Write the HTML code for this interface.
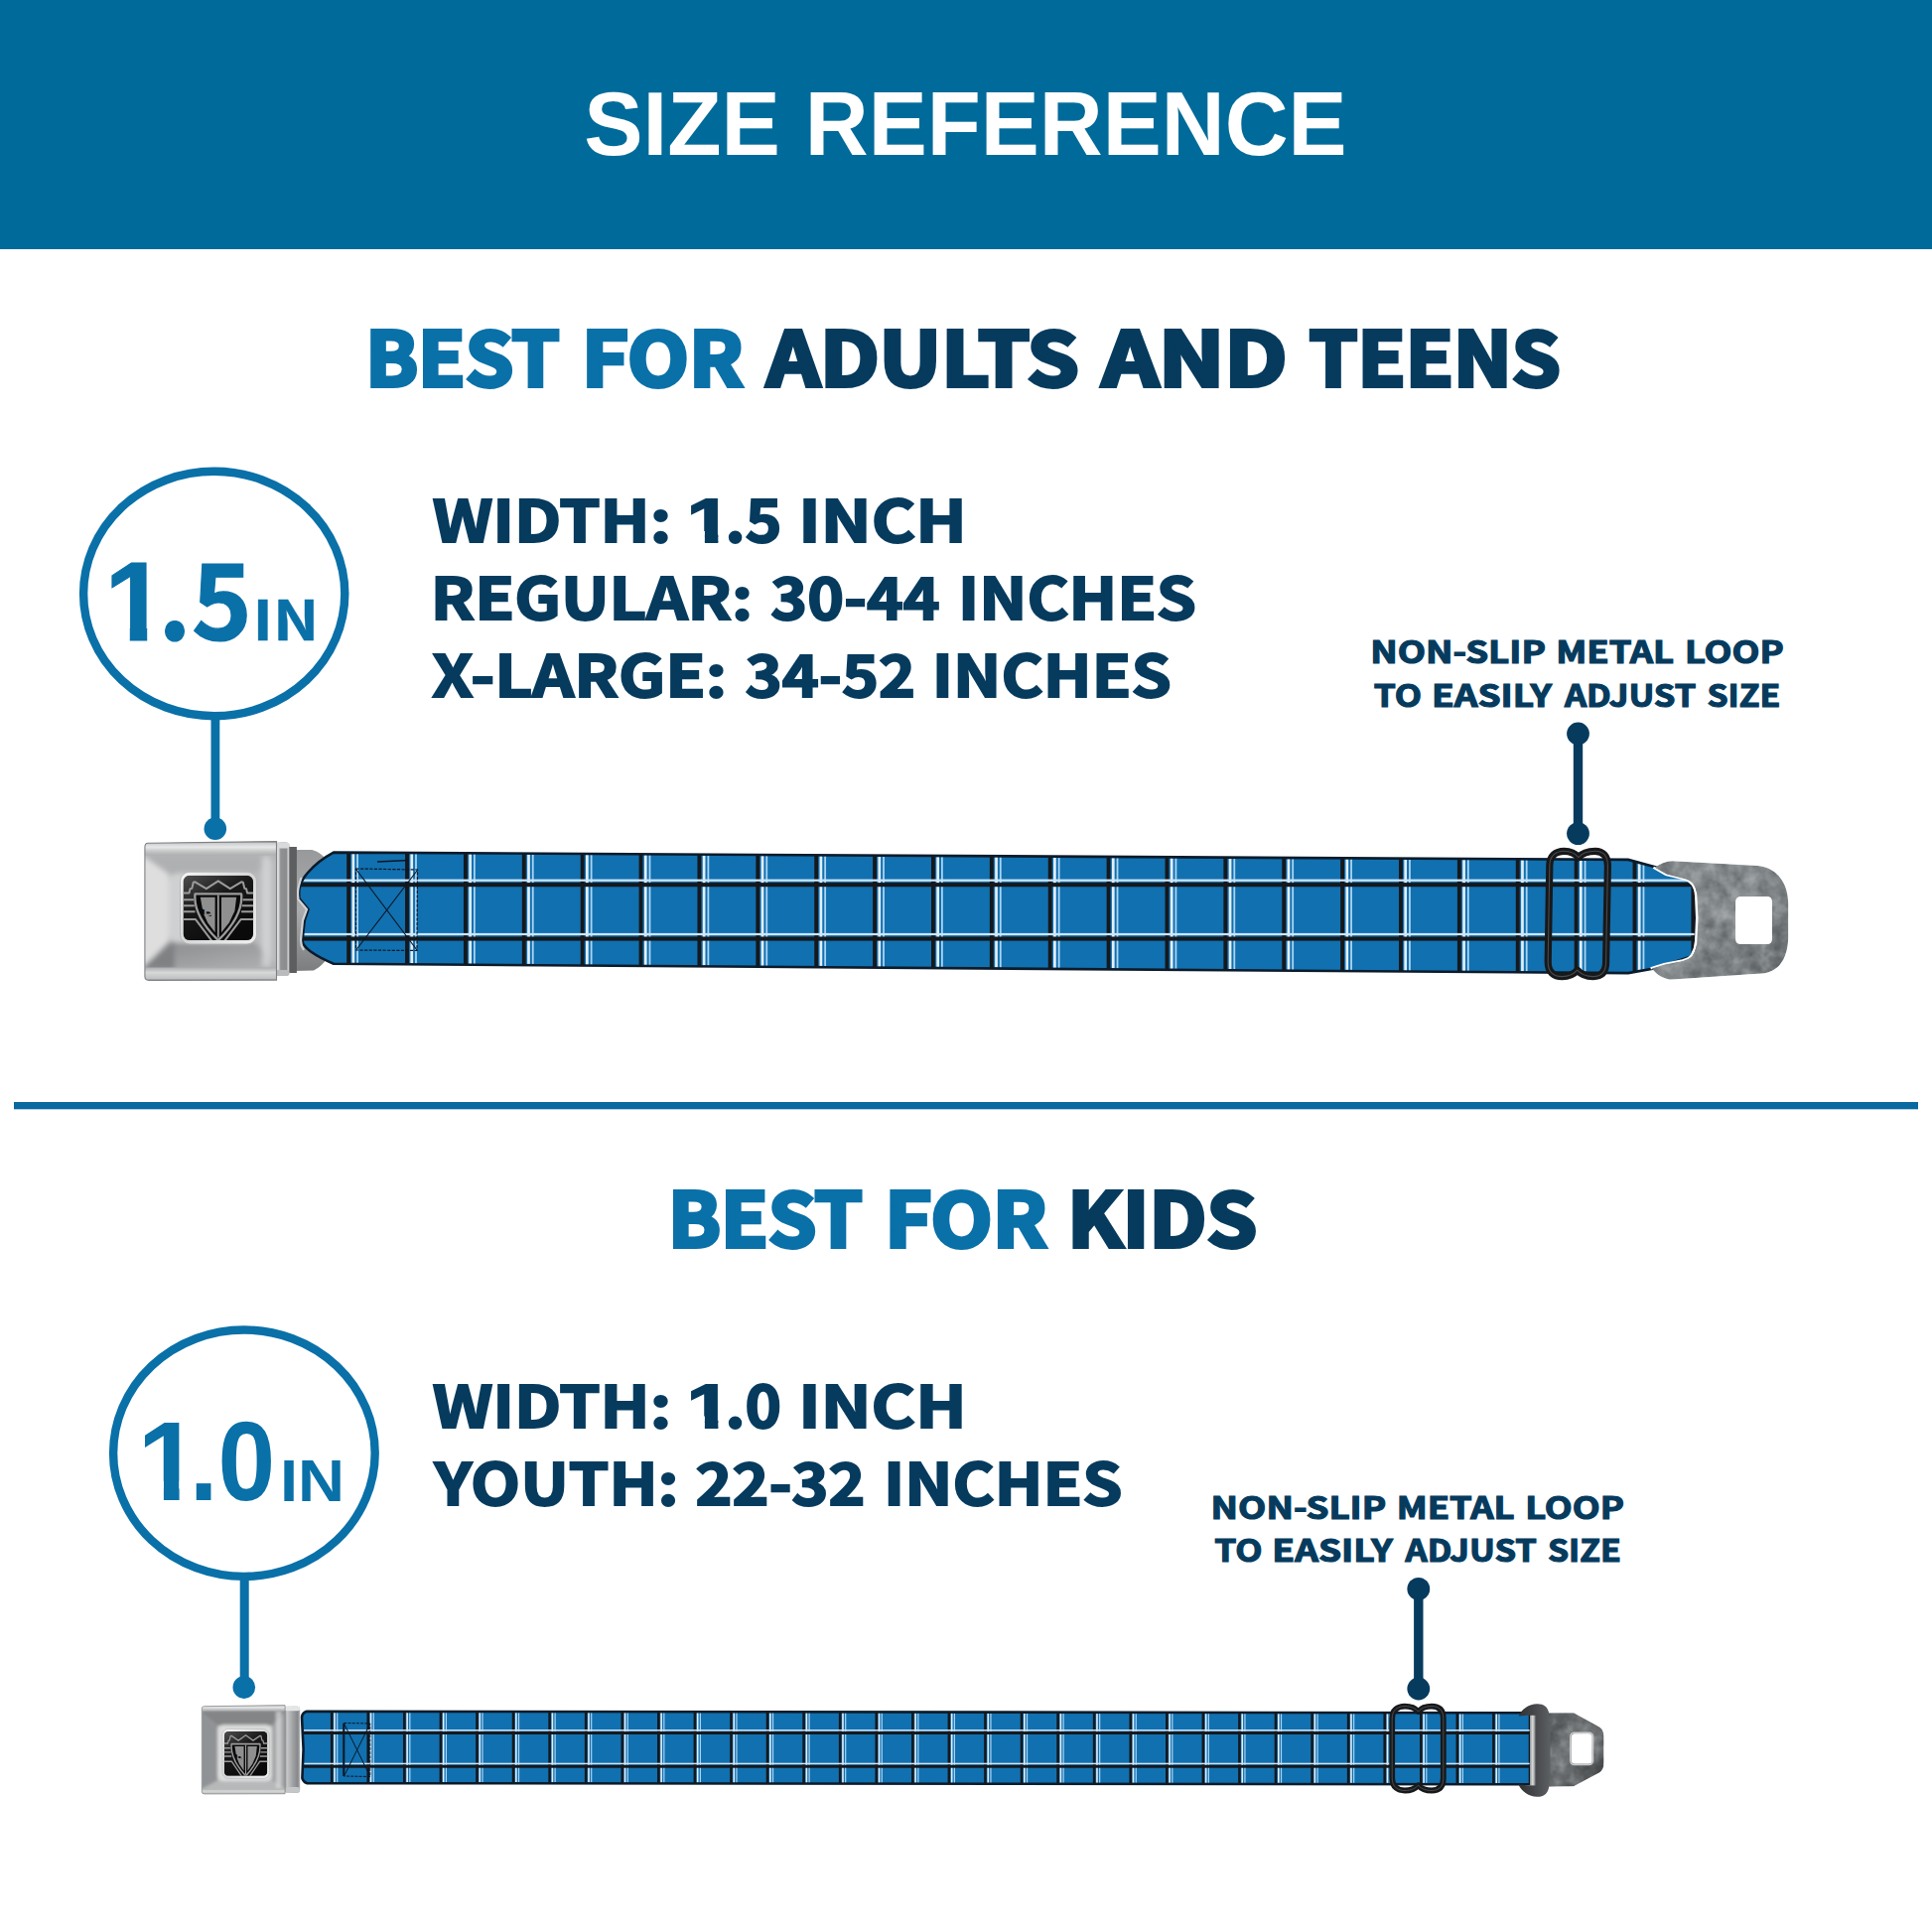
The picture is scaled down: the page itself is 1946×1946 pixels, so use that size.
<!DOCTYPE html>
<html lang="en">
<head>
<meta charset="utf-8">
<title>Size Reference</title>
<style>
html,body{margin:0;padding:0;background:#fff;}
body{width:1946px;height:1946px;position:relative;overflow:hidden;font-family:"Liberation Sans",sans-serif;}
.header{position:absolute;left:0;top:0;width:1946px;height:250.8px;background:#006b9a;}
svg.art{position:absolute;left:0;top:0;}
</style>
</head>
<body>
<div class="header"></div>
<svg class="art" xmlns="http://www.w3.org/2000/svg" width="1946" height="1946" viewBox="0 0 1946 1946">
<defs>
<linearGradient id="lipTop" x1="0" y1="0" x2="0" y2="1">
  <stop offset="0" stop-color="#9c9ea0"/><stop offset="0.18" stop-color="#d4d6d7"/><stop offset="0.45" stop-color="#f4f4f4"/>
  <stop offset="0.72" stop-color="#cfd1d2"/><stop offset="1" stop-color="#b6b8ba"/>
</linearGradient>
<linearGradient id="lipBot" x1="0" y1="0" x2="0" y2="1">
  <stop offset="0" stop-color="#b4b6b8"/><stop offset="0.35" stop-color="#e2e3e3"/><stop offset="0.8" stop-color="#c9cbcc"/><stop offset="1" stop-color="#8b8d8f"/>
</linearGradient>
<linearGradient id="botBevel" x1="0" y1="0" x2="1" y2="1">
  <stop offset="0" stop-color="#8f9193"/><stop offset="0.5" stop-color="#a4a6a8"/><stop offset="1" stop-color="#b9bbbd"/>
</linearGradient>
<linearGradient id="rimG" x1="0" y1="0" x2="1" y2="1">
  <stop offset="0" stop-color="#f6f6f6"/><stop offset="0.5" stop-color="#d6d7d8"/><stop offset="1" stop-color="#f0f0f0"/>
</linearGradient>
<linearGradient id="glossG" x1="0" y1="0" x2="0.6" y2="1">
  <stop offset="0" stop-color="#ffffff" stop-opacity="0.28"/><stop offset="0.45" stop-color="#ffffff" stop-opacity="0.06"/><stop offset="1" stop-color="#ffffff" stop-opacity="0"/>
</linearGradient>
<linearGradient id="hingeG" x1="0" y1="0" x2="1" y2="0">
  <stop offset="0" stop-color="#c9cbcc"/><stop offset="0.22" stop-color="#e3e4e4"/><stop offset="0.4" stop-color="#8f9193"/><stop offset="0.8" stop-color="#8a8c8e"/><stop offset="0.92" stop-color="#d2d3d4"/><stop offset="1" stop-color="#a0a2a4"/>
</linearGradient>
<linearGradient id="hinge2G" x1="0" y1="0" x2="1" y2="0">
  <stop offset="0" stop-color="#8f9193"/><stop offset="0.2" stop-color="#c4c6c7"/><stop offset="0.55" stop-color="#a0a2a4"/><stop offset="0.85" stop-color="#85878a"/><stop offset="1" stop-color="#b4b6b8"/>
</linearGradient>
<linearGradient id="tongueG" x1="0" y1="0" x2="0" y2="1">
  <stop offset="0" stop-color="#97999b"/><stop offset="0.5" stop-color="#a9abad"/><stop offset="1" stop-color="#7b7d7f"/>
</linearGradient>
<linearGradient id="tabG" x1="0" y1="0" x2="1" y2="1">
  <stop offset="0" stop-color="#82878a"/><stop offset="0.45" stop-color="#8b9093"/><stop offset="1" stop-color="#6a6f72"/>
</linearGradient>
<linearGradient id="tab2darkG" x1="0" y1="0" x2="1" y2="0">
  <stop offset="0" stop-color="#2f3133"/><stop offset="0.5" stop-color="#45474a"/><stop offset="1" stop-color="#5d6062"/>
</linearGradient>
<linearGradient id="tab2G" x1="0" y1="0" x2="1" y2="1">
  <stop offset="0" stop-color="#4e5153"/><stop offset="0.45" stop-color="#7c7f81"/><stop offset="0.7" stop-color="#5f6264"/><stop offset="1" stop-color="#414446"/>
</linearGradient>
<linearGradient id="barG" x1="0" y1="0" x2="1" y2="0">
  <stop offset="0" stop-color="#8e9092"/><stop offset="0.5" stop-color="#dcdddd"/><stop offset="1" stop-color="#77797b"/>
</linearGradient>
<filter id="soft" x="-10%" y="-10%" width="120%" height="120%"><feGaussianBlur stdDeviation="2.6"/></filter>
<filter id="metalTex" x="0" y="0" width="100%" height="100%">
  <feTurbulence type="fractalNoise" baseFrequency="0.07" numOctaves="3" seed="7" result="n"/>
  <feColorMatrix in="n" type="saturate" values="0" result="g"/>
  <feComponentTransfer in="g" result="g2"><feFuncR type="linear" slope="1.1" intercept="-0.08"/><feFuncG type="linear" slope="1.1" intercept="-0.08"/><feFuncB type="linear" slope="1.1" intercept="-0.08"/><feFuncA type="linear" slope="0" intercept="1"/></feComponentTransfer>
  <feBlend in="g2" in2="SourceGraphic" mode="soft-light" result="b"/>
  <feComposite in="b" in2="SourceGraphic" operator="in"/>
</filter>
<clipPath id="bodyClip"><path d="M3,0.8 L132.6,-0.9 L132.6,138.6 L4,138.9 Q0,138.9 0,134.9 L0,4.8 Q0,0.8 3,0.8 Z"/></clipPath>
<clipPath id="faceClip"><rect x="0" y="12.5" width="132.6" height="114"/></clipPath>
<clipPath id="insetClip"><rect x="38.6" y="33.3" width="70.6" height="65.3" rx="6.5"/></clipPath>
<path id="strap1" d="M336,858.6 L1640,865.9 L1668,873.5 L1708,886 L1708,962 L1666,975.5 L1640,980.1 L336,970.7 C326,966.5 318,962 313,958.5 C307,954 304.5,950.5 304.6,947 L306.7,927 L310.5,916 L301.5,905 C301,899 301,896 302,893 C303.5,888 306,883.5 310,879 C316,872 324,865 336,858.6 Z"/>
<clipPath id="clipB1"><use href="#strap1"/></clipPath>
<path id="strap2" d="M309,1723.7 L1542,1725.3 L1542,1797.2 L309,1796.1 C306.5,1795.3 305,1793.5 304.4,1791 L305.6,1762 L304,1729.5 C304.3,1727 306,1724.7 309,1723.7 Z"/>
<clipPath id="clipB2"><use href="#strap2"/></clipPath>
</defs>
<ellipse cx="215.7" cy="598" rx="131.6" ry="123.2" fill="none" stroke="#0a70a8" stroke-width="8.4"/>
<rect x="212.5" y="722" width="8.8" height="112" fill="#0a70a8"/>
<circle cx="216.8" cy="834.7" r="11.3" fill="#0a70a8"/>
<ellipse cx="245.9" cy="1463.7" rx="131.8" ry="124.2" fill="none" stroke="#0a70a8" stroke-width="8.4"/>
<rect x="241.7" y="1588" width="9" height="111" fill="#0a70a8"/>
<circle cx="245.8" cy="1699.6" r="11.3" fill="#0a70a8"/>
<rect x="1584.8" y="739.0" width="9.4" height="100" fill="#063b5e"/>
<circle cx="1589.5" cy="739.0" r="11.4" fill="#063b5e"/>
<circle cx="1589.5" cy="839.6" r="11.4" fill="#063b5e"/>
<rect x="1424.1" y="1600.4" width="9.4" height="100" fill="#063b5e"/>
<circle cx="1428.8" cy="1600.4" r="11.4" fill="#063b5e"/>
<circle cx="1428.8" cy="1701.0" r="11.4" fill="#063b5e"/>
<rect x="14" y="1110" width="1918" height="7.3" fill="#0868a0"/>
<g transform="translate(145.9,848.5) scale(1,1)"><path d="M150,7.6 L168.5,7.6 C178,10.5 184,17 188,26 L188,108 C184,118 178,125 170,129 L150,129.5 Z" fill="url(#tongueG)"/></g>
<g clip-path="url(#clipB1)">
<rect x="295" y="850" width="1420" height="140" fill="#1170af"/>
<rect x="290.32" y="850" width="3.9" height="140" fill="#15181c"/><rect x="295.62" y="850" width="2.7" height="140" fill="#e2effb"/><rect x="300.32" y="850" width="1.8" height="140" fill="#a9d4f4"/><rect x="349.20" y="850" width="3.9" height="140" fill="#15181c"/><rect x="354.50" y="850" width="2.7" height="140" fill="#e2effb"/><rect x="359.20" y="850" width="1.8" height="140" fill="#a9d4f4"/><rect x="408.08" y="850" width="3.9" height="140" fill="#15181c"/><rect x="413.38" y="850" width="2.7" height="140" fill="#e2effb"/><rect x="418.08" y="850" width="1.8" height="140" fill="#a9d4f4"/><rect x="466.96" y="850" width="3.9" height="140" fill="#15181c"/><rect x="472.26" y="850" width="2.7" height="140" fill="#e2effb"/><rect x="476.96" y="850" width="1.8" height="140" fill="#a9d4f4"/><rect x="525.84" y="850" width="3.9" height="140" fill="#15181c"/><rect x="531.14" y="850" width="2.7" height="140" fill="#e2effb"/><rect x="535.84" y="850" width="1.8" height="140" fill="#a9d4f4"/><rect x="584.72" y="850" width="3.9" height="140" fill="#15181c"/><rect x="590.02" y="850" width="2.7" height="140" fill="#e2effb"/><rect x="594.72" y="850" width="1.8" height="140" fill="#a9d4f4"/><rect x="643.60" y="850" width="3.9" height="140" fill="#15181c"/><rect x="648.90" y="850" width="2.7" height="140" fill="#e2effb"/><rect x="653.60" y="850" width="1.8" height="140" fill="#a9d4f4"/><rect x="702.48" y="850" width="3.9" height="140" fill="#15181c"/><rect x="707.78" y="850" width="2.7" height="140" fill="#e2effb"/><rect x="712.48" y="850" width="1.8" height="140" fill="#a9d4f4"/><rect x="761.36" y="850" width="3.9" height="140" fill="#15181c"/><rect x="766.66" y="850" width="2.7" height="140" fill="#e2effb"/><rect x="771.36" y="850" width="1.8" height="140" fill="#a9d4f4"/><rect x="820.24" y="850" width="3.9" height="140" fill="#15181c"/><rect x="825.54" y="850" width="2.7" height="140" fill="#e2effb"/><rect x="830.24" y="850" width="1.8" height="140" fill="#a9d4f4"/><rect x="879.12" y="850" width="3.9" height="140" fill="#15181c"/><rect x="884.42" y="850" width="2.7" height="140" fill="#e2effb"/><rect x="889.12" y="850" width="1.8" height="140" fill="#a9d4f4"/><rect x="938.00" y="850" width="3.9" height="140" fill="#15181c"/><rect x="943.30" y="850" width="2.7" height="140" fill="#e2effb"/><rect x="948.00" y="850" width="1.8" height="140" fill="#a9d4f4"/><rect x="996.88" y="850" width="3.9" height="140" fill="#15181c"/><rect x="1002.18" y="850" width="2.7" height="140" fill="#e2effb"/><rect x="1006.88" y="850" width="1.8" height="140" fill="#a9d4f4"/><rect x="1055.76" y="850" width="3.9" height="140" fill="#15181c"/><rect x="1061.06" y="850" width="2.7" height="140" fill="#e2effb"/><rect x="1065.76" y="850" width="1.8" height="140" fill="#a9d4f4"/><rect x="1114.64" y="850" width="3.9" height="140" fill="#15181c"/><rect x="1119.94" y="850" width="2.7" height="140" fill="#e2effb"/><rect x="1124.64" y="850" width="1.8" height="140" fill="#a9d4f4"/><rect x="1173.52" y="850" width="3.9" height="140" fill="#15181c"/><rect x="1178.82" y="850" width="2.7" height="140" fill="#e2effb"/><rect x="1183.52" y="850" width="1.8" height="140" fill="#a9d4f4"/><rect x="1232.40" y="850" width="3.9" height="140" fill="#15181c"/><rect x="1237.70" y="850" width="2.7" height="140" fill="#e2effb"/><rect x="1242.40" y="850" width="1.8" height="140" fill="#a9d4f4"/><rect x="1291.28" y="850" width="3.9" height="140" fill="#15181c"/><rect x="1296.58" y="850" width="2.7" height="140" fill="#e2effb"/><rect x="1301.28" y="850" width="1.8" height="140" fill="#a9d4f4"/><rect x="1350.16" y="850" width="3.9" height="140" fill="#15181c"/><rect x="1355.46" y="850" width="2.7" height="140" fill="#e2effb"/><rect x="1360.16" y="850" width="1.8" height="140" fill="#a9d4f4"/><rect x="1409.04" y="850" width="3.9" height="140" fill="#15181c"/><rect x="1414.34" y="850" width="2.7" height="140" fill="#e2effb"/><rect x="1419.04" y="850" width="1.8" height="140" fill="#a9d4f4"/><rect x="1467.92" y="850" width="3.9" height="140" fill="#15181c"/><rect x="1473.22" y="850" width="2.7" height="140" fill="#e2effb"/><rect x="1477.92" y="850" width="1.8" height="140" fill="#a9d4f4"/><rect x="1526.80" y="850" width="3.9" height="140" fill="#15181c"/><rect x="1532.10" y="850" width="2.7" height="140" fill="#e2effb"/><rect x="1536.80" y="850" width="1.8" height="140" fill="#a9d4f4"/><rect x="1585.68" y="850" width="3.9" height="140" fill="#15181c"/><rect x="1590.98" y="850" width="2.7" height="140" fill="#e2effb"/><rect x="1595.68" y="850" width="1.8" height="140" fill="#a9d4f4"/><rect x="1644.56" y="850" width="3.9" height="140" fill="#15181c"/><rect x="1649.86" y="850" width="2.7" height="140" fill="#e2effb"/><rect x="1654.56" y="850" width="1.8" height="140" fill="#a9d4f4"/><rect x="1703.44" y="850" width="3.9" height="140" fill="#15181c"/><rect x="1708.74" y="850" width="2.7" height="140" fill="#e2effb"/><rect x="1713.44" y="850" width="1.8" height="140" fill="#a9d4f4"/>
<rect x="295" y="885.6" width="1420" height="2.2" fill="#cfe5f8"/>
<rect x="295" y="889.1" width="1420" height="4.1" fill="#15181c"/>
<rect x="295" y="939.9" width="1420" height="2.2" fill="#cfe5f8"/>
<rect x="295" y="943.5" width="1420" height="4.1" fill="#15181c"/>
</g>
<use href="#strap1" fill="none" stroke="#0b1b2b" stroke-width="2.6"/>
<path d="M303.5,884 C299.5,896 299.5,900 300.5,906 L309,916 L305,927 L303,947 C303,951 304,954 306,957" fill="none" stroke="#d0d2d4" stroke-width="2.2"/>
<g fill="none" stroke="#0b1726" stroke-width="1.2"><path d="M358.5,875 L420.5,876 L420,957.5 L358.5,957 Z" stroke-dasharray="3.2 1.4"/><path d="M359,876 L420,957 M420,877 L359,956.5"/><path d="M380,868 L412,866.5" stroke-width="1.4"/></g>
<g transform="translate(145.9,848.5) scale(1,1)"><rect x="144.5" y="4.5" width="8.5" height="127" fill="#5c5e60"/><rect x="131" y="0" width="14.6" height="134.5" rx="3.5" fill="url(#hingeG)"/><rect x="131" y="0" width="14.6" height="6" rx="3" fill="#d9dadb"/><rect x="131" y="128.5" width="14.6" height="6" rx="3" fill="#b9bbbd"/><g clip-path="url(#bodyClip)"><rect x="-1" y="-2" width="135" height="142" fill="#c3c5c6"/><clipPath id="fca"><rect x="0" y="12.5" width="132.6" height="114"/></clipPath><g clip-path="url(#fca)"><g filter="url(#soft)"><polygon points="-4,12 137,12 110,32 24,32" fill="#b7b9bb"/><polygon points="-4,12 24,32 24,100 -4,128" fill="#e9e9ea"/><polygon points="137,12 110,32 110,100 137,128" fill="#c2c4c6"/><polygon points="-4,128 24,100 110,100 137,128" fill="url(#botBevel)"/><polygon points="-4,128 30,100 30,128" fill="#85878a"/><rect x="24" y="31" width="86" height="70" rx="9" fill="#dadbdc"/><rect x="118" y="14" width="9" height="111" fill="#e6e7e7" opacity="0.7"/></g></g><g transform="translate(0,-2) scale(1,1.0)"><rect x="-1" y="0" width="135" height="15" fill="url(#lipTop)"/></g><g transform="translate(0,126) scale(1,1.0)"><rect x="-1" y="0" width="135" height="14" fill="url(#lipBot)"/></g></g><path d="M3,0.8 L132.6,-0.9 L132.6,138.6 L4,138.9 Q0,138.9 0,134.9 L0,4.8 Q0,0.8 3,0.8 Z" fill="#101214" opacity="0.05"/><path d="M3,0.8 L132.6,-0.9 L132.6,138.6 L4,138.9 Q0,138.9 0,134.9 L0,4.8 Q0,0.8 3,0.8 Z" fill="none" stroke="#7e8082" stroke-width="1.1"/><g ><rect x="35.6" y="29.8" width="77" height="72.6" rx="9.5" fill="url(#rimG)" stroke="#aeb0b2" stroke-width="0.8"/><g clip-path="url(#insetClip)"><rect x="38.6" y="33.3" width="70.6" height="65.3" fill="#0a0a0b"/><rect x="38.6" y="33.3" width="70.6" height="65.3" fill="url(#glossG)"/><g fill="none" stroke="#9b9b9b" stroke-width="2" stroke-linejoin="round" stroke-linecap="butt"><path d="M37.19,57.79 H49.19 M110.61,57.79 H98.61" stroke-width="1.9"/><path d="M37.19,63.8 H49.9 M110.61,63.8 H97.9" stroke-width="1.9"/><path d="M37.19,69.74 H50.6 M110.61,69.74 H97.2" stroke-width="1.9"/><polyline points="37.19,77.38 50.95,77.38 68.96,101.21"/><polyline points="110.61,77.38 96.84,77.38 78.84,101.21"/><polyline points="37.19,50.93 44.6,50.93 45.66,46.69 47.42,46.36 48.84,40.16 50.6,39.83 61.9,46.69 73.9,38.85 85.9,46.69 97.2,39.83 98.96,40.16 100.38,46.36 102.14,46.69 103.2,50.93 110.61,50.93"/><path d="M50.6,51.78 L97.2,51.78 Q99.32,73.79 73.9,98.6 Q48.48,73.79 50.6,51.78 Z" fill="#0a0a0b" stroke-width="2.3"/><path d="M73.9,52.89 V95.99" stroke-width="1.8"/></g><polygon points="55.9,55.18 70.72,55.18 70.72,90.76 63.31,80.97 59.43,72.48 66.84,74.44 67.55,70.85 58.02,66.93" fill="#8f8f8f"/><polygon points="77.08,55.18 92.26,55.18 90.49,69.22 84.84,80.97 77.08,90.76" fill="#8f8f8f"/><text x="59.07" y="73.79" font-family="'Liberation Sans', sans-serif" font-weight="bold" font-size="13" fill="#8f8f8f" textLength="29.7" lengthAdjust="spacing">BD</text></g></g></g>
<path d="M1560.8,872 C1560.8,862 1567,857.3 1575.5,857.3 C1583,857.3 1587,860 1589.9,863.6 C1593,860 1598,857.3 1606.7,857.3 C1614.5,857.3 1619.4,862 1619.4,872 L1617.6,969 C1617.6,979 1613,983.6 1604.5,983.6 C1597,983.6 1592,981 1588.7,977.2 C1585.5,981 1581,983.6 1573.5,983.6 C1565,983.6 1559.2,979 1559.2,969 Z" fill="none" stroke="#17181a" stroke-width="7.2" stroke-linejoin="round"/>
<path d="M1560.8,872 C1560.8,862 1567,857.3 1575.5,857.3 C1583,857.3 1587,860 1589.9,863.6 C1593,860 1598,857.3 1606.7,857.3 C1614.5,857.3 1619.4,862 1619.4,872 L1617.6,969 C1617.6,979 1613,983.6 1604.5,983.6 C1597,983.6 1592,981 1588.7,977.2 C1585.5,981 1581,983.6 1573.5,983.6 C1565,983.6 1559.2,979 1559.2,969 Z" fill="none" stroke="#55575a" stroke-width="1.1" stroke-linejoin="round" opacity="0.8"/>
<path d="M1666.6,873.8 L1679.1,880.8 L1697.8,885.4 C1701,886.3 1703,887.5 1705.2,890.1 C1707.5,893 1709,897 1709.4,902.2 L1710.4,924.6 L1709.4,947.9 C1709.2,952 1708,957 1705.2,961.8 C1703.5,964.5 1701,966 1695.9,967.4 L1677.3,971.2 L1663.8,975.4" fill="none" stroke="#ffffff" stroke-width="2.4" transform="translate(-1.2,0)"/>
<path d="M1666.6,873.8 C1672,870 1678,867.5 1684.7,867.2 L1770.5,871.9 C1790,874 1801.2,890 1801.2,909.6 L1801.2,943.2 C1801.2,965 1792,979 1775.1,980.5 L1684.7,986.5 C1676,986.5 1669,982 1663.8,975.4 L1677.3,971.2 C1686,969.5 1691,968.8 1695.9,967.4 C1701,966 1703.5,964.5 1705.2,961.8 C1708,957 1709.2,952 1709.4,947.9 L1710.4,924.6 L1709.4,902.2 C1709,897 1707.5,893 1705.2,890.1 C1703,887.5 1701,886.3 1697.8,885.4 L1679.1,880.8 Z M1754,903.1 L1779.5,903.1 Q1784.9,903.1 1784.9,908.5 L1784.9,945.6 Q1784.9,951.1 1779.5,951.1 L1754,951.1 Q1748.1,951.1 1748.1,945.2 L1748.1,909 Q1748.1,903.1 1754,903.1 Z" fill="url(#tabG)" fill-rule="evenodd" filter="url(#metalTex)"/>
<g clip-path="url(#clipB2)">
<rect x="300" y="1715" width="1250" height="95" fill="#1170af"/>
<rect x="296.33" y="1715" width="2.6" height="95" fill="#15181c"/><rect x="299.63" y="1715" width="1.6" height="95" fill="#e2effb"/><rect x="302.53" y="1715" width="1.2" height="95" fill="#a9d4f4"/><rect x="332.90" y="1715" width="2.6" height="95" fill="#15181c"/><rect x="336.20" y="1715" width="1.6" height="95" fill="#e2effb"/><rect x="339.10" y="1715" width="1.2" height="95" fill="#a9d4f4"/><rect x="369.47" y="1715" width="2.6" height="95" fill="#15181c"/><rect x="372.77" y="1715" width="1.6" height="95" fill="#e2effb"/><rect x="375.67" y="1715" width="1.2" height="95" fill="#a9d4f4"/><rect x="406.04" y="1715" width="2.6" height="95" fill="#15181c"/><rect x="409.34" y="1715" width="1.6" height="95" fill="#e2effb"/><rect x="412.24" y="1715" width="1.2" height="95" fill="#a9d4f4"/><rect x="442.61" y="1715" width="2.6" height="95" fill="#15181c"/><rect x="445.91" y="1715" width="1.6" height="95" fill="#e2effb"/><rect x="448.81" y="1715" width="1.2" height="95" fill="#a9d4f4"/><rect x="479.18" y="1715" width="2.6" height="95" fill="#15181c"/><rect x="482.48" y="1715" width="1.6" height="95" fill="#e2effb"/><rect x="485.38" y="1715" width="1.2" height="95" fill="#a9d4f4"/><rect x="515.75" y="1715" width="2.6" height="95" fill="#15181c"/><rect x="519.05" y="1715" width="1.6" height="95" fill="#e2effb"/><rect x="521.95" y="1715" width="1.2" height="95" fill="#a9d4f4"/><rect x="552.32" y="1715" width="2.6" height="95" fill="#15181c"/><rect x="555.62" y="1715" width="1.6" height="95" fill="#e2effb"/><rect x="558.52" y="1715" width="1.2" height="95" fill="#a9d4f4"/><rect x="588.89" y="1715" width="2.6" height="95" fill="#15181c"/><rect x="592.19" y="1715" width="1.6" height="95" fill="#e2effb"/><rect x="595.09" y="1715" width="1.2" height="95" fill="#a9d4f4"/><rect x="625.46" y="1715" width="2.6" height="95" fill="#15181c"/><rect x="628.76" y="1715" width="1.6" height="95" fill="#e2effb"/><rect x="631.66" y="1715" width="1.2" height="95" fill="#a9d4f4"/><rect x="662.03" y="1715" width="2.6" height="95" fill="#15181c"/><rect x="665.33" y="1715" width="1.6" height="95" fill="#e2effb"/><rect x="668.23" y="1715" width="1.2" height="95" fill="#a9d4f4"/><rect x="698.60" y="1715" width="2.6" height="95" fill="#15181c"/><rect x="701.90" y="1715" width="1.6" height="95" fill="#e2effb"/><rect x="704.80" y="1715" width="1.2" height="95" fill="#a9d4f4"/><rect x="735.17" y="1715" width="2.6" height="95" fill="#15181c"/><rect x="738.47" y="1715" width="1.6" height="95" fill="#e2effb"/><rect x="741.37" y="1715" width="1.2" height="95" fill="#a9d4f4"/><rect x="771.74" y="1715" width="2.6" height="95" fill="#15181c"/><rect x="775.04" y="1715" width="1.6" height="95" fill="#e2effb"/><rect x="777.94" y="1715" width="1.2" height="95" fill="#a9d4f4"/><rect x="808.31" y="1715" width="2.6" height="95" fill="#15181c"/><rect x="811.61" y="1715" width="1.6" height="95" fill="#e2effb"/><rect x="814.51" y="1715" width="1.2" height="95" fill="#a9d4f4"/><rect x="844.88" y="1715" width="2.6" height="95" fill="#15181c"/><rect x="848.18" y="1715" width="1.6" height="95" fill="#e2effb"/><rect x="851.08" y="1715" width="1.2" height="95" fill="#a9d4f4"/><rect x="881.45" y="1715" width="2.6" height="95" fill="#15181c"/><rect x="884.75" y="1715" width="1.6" height="95" fill="#e2effb"/><rect x="887.65" y="1715" width="1.2" height="95" fill="#a9d4f4"/><rect x="918.02" y="1715" width="2.6" height="95" fill="#15181c"/><rect x="921.32" y="1715" width="1.6" height="95" fill="#e2effb"/><rect x="924.22" y="1715" width="1.2" height="95" fill="#a9d4f4"/><rect x="954.59" y="1715" width="2.6" height="95" fill="#15181c"/><rect x="957.89" y="1715" width="1.6" height="95" fill="#e2effb"/><rect x="960.79" y="1715" width="1.2" height="95" fill="#a9d4f4"/><rect x="991.16" y="1715" width="2.6" height="95" fill="#15181c"/><rect x="994.46" y="1715" width="1.6" height="95" fill="#e2effb"/><rect x="997.36" y="1715" width="1.2" height="95" fill="#a9d4f4"/><rect x="1027.73" y="1715" width="2.6" height="95" fill="#15181c"/><rect x="1031.03" y="1715" width="1.6" height="95" fill="#e2effb"/><rect x="1033.93" y="1715" width="1.2" height="95" fill="#a9d4f4"/><rect x="1064.30" y="1715" width="2.6" height="95" fill="#15181c"/><rect x="1067.60" y="1715" width="1.6" height="95" fill="#e2effb"/><rect x="1070.50" y="1715" width="1.2" height="95" fill="#a9d4f4"/><rect x="1100.87" y="1715" width="2.6" height="95" fill="#15181c"/><rect x="1104.17" y="1715" width="1.6" height="95" fill="#e2effb"/><rect x="1107.07" y="1715" width="1.2" height="95" fill="#a9d4f4"/><rect x="1137.44" y="1715" width="2.6" height="95" fill="#15181c"/><rect x="1140.74" y="1715" width="1.6" height="95" fill="#e2effb"/><rect x="1143.64" y="1715" width="1.2" height="95" fill="#a9d4f4"/><rect x="1174.01" y="1715" width="2.6" height="95" fill="#15181c"/><rect x="1177.31" y="1715" width="1.6" height="95" fill="#e2effb"/><rect x="1180.21" y="1715" width="1.2" height="95" fill="#a9d4f4"/><rect x="1210.58" y="1715" width="2.6" height="95" fill="#15181c"/><rect x="1213.88" y="1715" width="1.6" height="95" fill="#e2effb"/><rect x="1216.78" y="1715" width="1.2" height="95" fill="#a9d4f4"/><rect x="1247.15" y="1715" width="2.6" height="95" fill="#15181c"/><rect x="1250.45" y="1715" width="1.6" height="95" fill="#e2effb"/><rect x="1253.35" y="1715" width="1.2" height="95" fill="#a9d4f4"/><rect x="1283.72" y="1715" width="2.6" height="95" fill="#15181c"/><rect x="1287.02" y="1715" width="1.6" height="95" fill="#e2effb"/><rect x="1289.92" y="1715" width="1.2" height="95" fill="#a9d4f4"/><rect x="1320.29" y="1715" width="2.6" height="95" fill="#15181c"/><rect x="1323.59" y="1715" width="1.6" height="95" fill="#e2effb"/><rect x="1326.49" y="1715" width="1.2" height="95" fill="#a9d4f4"/><rect x="1356.86" y="1715" width="2.6" height="95" fill="#15181c"/><rect x="1360.16" y="1715" width="1.6" height="95" fill="#e2effb"/><rect x="1363.06" y="1715" width="1.2" height="95" fill="#a9d4f4"/><rect x="1393.43" y="1715" width="2.6" height="95" fill="#15181c"/><rect x="1396.73" y="1715" width="1.6" height="95" fill="#e2effb"/><rect x="1399.63" y="1715" width="1.2" height="95" fill="#a9d4f4"/><rect x="1430.00" y="1715" width="2.6" height="95" fill="#15181c"/><rect x="1433.30" y="1715" width="1.6" height="95" fill="#e2effb"/><rect x="1436.20" y="1715" width="1.2" height="95" fill="#a9d4f4"/><rect x="1466.57" y="1715" width="2.6" height="95" fill="#15181c"/><rect x="1469.87" y="1715" width="1.6" height="95" fill="#e2effb"/><rect x="1472.77" y="1715" width="1.2" height="95" fill="#a9d4f4"/><rect x="1503.14" y="1715" width="2.6" height="95" fill="#15181c"/><rect x="1506.44" y="1715" width="1.6" height="95" fill="#e2effb"/><rect x="1509.34" y="1715" width="1.2" height="95" fill="#a9d4f4"/><rect x="1539.71" y="1715" width="2.6" height="95" fill="#15181c"/><rect x="1543.01" y="1715" width="1.6" height="95" fill="#e2effb"/><rect x="1545.91" y="1715" width="1.2" height="95" fill="#a9d4f4"/>
<rect x="300" y="1742.1" width="1250" height="1.5" fill="#cfe5f8"/>
<rect x="300" y="1744.1" width="1250" height="2.9" fill="#15181c"/>
<rect x="300" y="1775.7" width="1250" height="1.5" fill="#cfe5f8"/>
<rect x="300" y="1777.8" width="1250" height="2.9" fill="#15181c"/>
</g>
<use href="#strap2" fill="none" stroke="#0b1b2b" stroke-width="2.6"/>
<g fill="none" stroke="#0b1726" stroke-width="1"><path d="M346.3,1735.5 L372.8,1736 L372.8,1789.5 L346.3,1789 Z" stroke-dasharray="3 1.2"/><path d="M346.8,1736.5 L372.4,1788.5 M372.4,1737 L346.8,1788.5"/><path d="M346.3,1736 V1789" stroke-width="2"/></g>
<g transform="translate(203.3,1718.2) scale(0.632,0.639)"><rect x="131" y="1" width="25.5" height="136" rx="5" fill="url(#hinge2G)"/><rect x="131" y="1" width="25.5" height="7" rx="3.5" fill="#e4e5e5"/><rect x="133" y="128" width="23" height="9" rx="4" fill="#c4c6c7"/><g clip-path="url(#bodyClip)"><rect x="-1" y="-2" width="135" height="142" fill="#c3c5c6"/><clipPath id="fcb"><rect x="0" y="7.5" width="132.6" height="124"/></clipPath><g clip-path="url(#fcb)"><g filter="url(#soft)"><polygon points="-4,7 137,7 112,31 25,31" fill="#8a8c8e"/><polygon points="-4,7 25,31 25,118 -4,133" fill="#979a9c"/><polygon points="137,7 112,31 112,118 137,133" fill="#a6a8aa"/><polygon points="-4,133 25,118 112,118 137,133" fill="#bfc1c2"/><rect x="25" y="30" width="87" height="89" rx="9" fill="#e6e7e7"/><rect x="118" y="9" width="9" height="121" fill="#e6e7e7" opacity="0.7"/></g></g><g transform="translate(0,-2) scale(1,0.6666666666666666)"><rect x="-1" y="0" width="135" height="15" fill="url(#lipTop)"/></g><g transform="translate(0,131) scale(1,0.6428571428571429)"><rect x="-1" y="0" width="135" height="14" fill="url(#lipBot)"/></g></g><path d="M3,0.8 L132.6,-0.9 L132.6,138.6 L4,138.9 Q0,138.9 0,134.9 L0,4.8 Q0,0.8 3,0.8 Z" fill="#101214" opacity="0.05"/><path d="M3,0.8 L132.6,-0.9 L132.6,138.6 L4,138.9 Q0,138.9 0,134.9 L0,4.8 Q0,0.8 3,0.8 Z" fill="none" stroke="#7e8082" stroke-width="1.1"/><g transform="translate(-2.02,4.30) scale(0.9745,1.078)"><rect x="35.6" y="29.8" width="77" height="72.6" rx="9.5" fill="url(#rimG)" stroke="#aeb0b2" stroke-width="0.8"/><g clip-path="url(#insetClip)"><rect x="38.6" y="33.3" width="70.6" height="65.3" fill="#0a0a0b"/><rect x="38.6" y="33.3" width="70.6" height="65.3" fill="url(#glossG)"/><g fill="none" stroke="#9b9b9b" stroke-width="2" stroke-linejoin="round" stroke-linecap="butt"><path d="M37.19,57.79 H49.19 M110.61,57.79 H98.61" stroke-width="1.9"/><path d="M37.19,63.8 H49.9 M110.61,63.8 H97.9" stroke-width="1.9"/><path d="M37.19,69.74 H50.6 M110.61,69.74 H97.2" stroke-width="1.9"/><polyline points="37.19,77.38 50.95,77.38 68.96,101.21"/><polyline points="110.61,77.38 96.84,77.38 78.84,101.21"/><polyline points="37.19,50.93 44.6,50.93 45.66,46.69 47.42,46.36 48.84,40.16 50.6,39.83 61.9,46.69 73.9,38.85 85.9,46.69 97.2,39.83 98.96,40.16 100.38,46.36 102.14,46.69 103.2,50.93 110.61,50.93"/><path d="M50.6,51.78 L97.2,51.78 Q99.32,73.79 73.9,98.6 Q48.48,73.79 50.6,51.78 Z" fill="#0a0a0b" stroke-width="2.3"/><path d="M73.9,52.89 V95.99" stroke-width="1.8"/></g><polygon points="55.9,55.18 70.72,55.18 70.72,90.76 63.31,80.97 59.43,72.48 66.84,74.44 67.55,70.85 58.02,66.93" fill="#8f8f8f"/><polygon points="77.08,55.18 92.26,55.18 90.49,69.22 84.84,80.97 77.08,90.76" fill="#8f8f8f"/><text x="59.07" y="73.79" font-family="'Liberation Sans', sans-serif" font-weight="bold" font-size="13" fill="#8f8f8f" textLength="29.7" lengthAdjust="spacing">BD</text></g></g></g>
<path d="M1402.2,1731 C1402.2,1722 1408,1718.6 1415,1718.6 C1422,1718.6 1426,1721 1428.5,1724 C1431,1721 1435,1718.6 1442,1718.6 C1449,1718.6 1453.8,1722 1453.8,1731 L1453.8,1791 C1453.8,1800 1449,1803.5 1442,1803.5 C1435,1803.5 1431,1801 1428.5,1798.2 C1426,1801 1422,1803.5 1415,1803.5 C1408,1803.5 1402.2,1800 1402.2,1791 Z" fill="none" stroke="#17181a" stroke-width="5.8" stroke-linejoin="round"/>
<path d="M1402.2,1731 C1402.2,1722 1408,1718.6 1415,1718.6 C1422,1718.6 1426,1721 1428.5,1724 C1431,1721 1435,1718.6 1442,1718.6 C1449,1718.6 1453.8,1722 1453.8,1731 L1453.8,1791 C1453.8,1800 1449,1803.5 1442,1803.5 C1435,1803.5 1431,1801 1428.5,1798.2 C1426,1801 1422,1803.5 1415,1803.5 C1408,1803.5 1402.2,1800 1402.2,1791 Z" fill="none" stroke="#55575a" stroke-width="1" stroke-linejoin="round" opacity="0.8"/>
<path d="M1556,1725.2 L1585.2,1725.2 L1611,1739.5 C1614.5,1742 1615.4,1745 1615.4,1749 L1615.4,1776 C1615.4,1780 1614.5,1783 1611,1785.5 L1585.2,1799.3 L1556,1799.8 Z M1586.3,1746.2 L1600.5,1746.2 Q1603.5,1746.2 1603.5,1749.2 L1603.5,1773.5 Q1603.5,1776.5 1600.5,1776.5 L1586.3,1776.5 Q1582.8,1776.5 1582.8,1773 L1582.8,1749.7 Q1582.8,1746.2 1586.3,1746.2 Z" fill="url(#tab2G)" fill-rule="evenodd" filter="url(#metalTex)"/>
<rect x="1581.8" y="1745.2" width="22.7" height="32.3" rx="4" fill="none" stroke="#c9cbcc" stroke-width="1.6"/>
<path d="M1529.5,1728.5 C1533,1721 1540,1716.6 1548,1716.2 C1555,1716 1558.5,1719 1560,1724.5 L1561.5,1735 L1561.5,1790 L1560,1801 C1558.5,1807 1555,1810 1548,1809.8 C1540,1809.4 1533,1805 1529.5,1797.5 L1541,1798.5 L1541,1727.5 Z" fill="url(#tab2darkG)"/>
<rect x="1541" y="1727.8" width="5.6" height="70.6" fill="url(#barG)"/>
<text x="368.23" y="389.4" font-family="'Noto Sans CJK SC', 'DejaVu Sans', 'Liberation Sans', sans-serif" font-weight="bold" font-size="74.91" fill="#0a70a8" textLength="195.56" lengthAdjust="spacingAndGlyphs" stroke="#0a70a8" stroke-width="4.0" stroke-linejoin="miter" stroke-miterlimit="3" id="h1a">BEST</text>
<text x="586.04" y="389.4" font-family="'Noto Sans CJK SC', 'DejaVu Sans', 'Liberation Sans', sans-serif" font-weight="bold" font-size="74.91" fill="#0a70a8" textLength="162.72" lengthAdjust="spacingAndGlyphs" stroke="#0a70a8" stroke-width="4.0" stroke-linejoin="miter" stroke-miterlimit="3" id="h1b">FOR</text>
<text x="772.39" y="389.4" font-family="'Noto Sans CJK SC', 'DejaVu Sans', 'Liberation Sans', sans-serif" font-weight="bold" font-size="74.91" fill="#063b5e" textLength="314.35" lengthAdjust="spacingAndGlyphs" stroke="#063b5e" stroke-width="4.0" stroke-linejoin="miter" stroke-miterlimit="3" id="h1c">ADULTS</text>
<text x="1110.13" y="389.4" font-family="'Noto Sans CJK SC', 'DejaVu Sans', 'Liberation Sans', sans-serif" font-weight="bold" font-size="74.91" fill="#063b5e" textLength="186.47" lengthAdjust="spacingAndGlyphs" stroke="#063b5e" stroke-width="4.0" stroke-linejoin="miter" stroke-miterlimit="3" id="h1d">AND</text>
<text x="1318.59" y="389.4" font-family="'Noto Sans CJK SC', 'DejaVu Sans', 'Liberation Sans', sans-serif" font-weight="bold" font-size="74.91" fill="#063b5e" textLength="253.14" lengthAdjust="spacingAndGlyphs" stroke="#063b5e" stroke-width="4.0" stroke-linejoin="miter" stroke-miterlimit="3" id="h1e">TEENS</text>
<text x="673.0" y="1256.4" font-family="'Noto Sans CJK SC', 'DejaVu Sans', 'Liberation Sans', sans-serif" font-weight="bold" font-size="74.91" fill="#0a70a8" textLength="195.88" lengthAdjust="spacingAndGlyphs" stroke="#0a70a8" stroke-width="4.0" stroke-linejoin="miter" stroke-miterlimit="3" id="h2a">BEST</text>
<text x="891.36" y="1256.4" font-family="'Noto Sans CJK SC', 'DejaVu Sans', 'Liberation Sans', sans-serif" font-weight="bold" font-size="74.91" fill="#0a70a8" textLength="163.27" lengthAdjust="spacingAndGlyphs" stroke="#0a70a8" stroke-width="4.0" stroke-linejoin="miter" stroke-miterlimit="3" id="h2b">FOR</text>
<text x="1075.34" y="1256.4" font-family="'Noto Sans CJK SC', 'DejaVu Sans', 'Liberation Sans', sans-serif" font-weight="bold" font-size="74.91" fill="#063b5e" textLength="190.62" lengthAdjust="spacingAndGlyphs" stroke="#063b5e" stroke-width="4.0" stroke-linejoin="miter" stroke-miterlimit="3" id="h2c">KIDS</text>
<text x="435.67" y="546.1" font-family="'Noto Sans CJK SC', 'DejaVu Sans', 'Liberation Sans', sans-serif" font-weight="bold" font-size="58.18" fill="#063b5e" textLength="240.59" lengthAdjust="spacingAndGlyphs" stroke="#063b5e" stroke-width="2.0" stroke-linejoin="miter" stroke-miterlimit="3" id="s1a">WIDTH:</text>
<clipPath id="cps1b"><path d="M688.0,491.8 H762.9 V535.0 H723.3 V553.1 H709.9 V535.0 H688.0 Z"/></clipPath>
<text x="692.1" y="546.0" font-family="'Liberation Sans', 'DejaVu Sans', 'Liberation Sans', sans-serif" font-weight="bold" font-size="63.2" fill="#063b5e" textLength="44.36" lengthAdjust="spacingAndGlyphs" stroke="#063b5e" stroke-width="2.2" stroke-linejoin="miter" stroke-miterlimit="3" id="s1b" clip-path="url(#cps1b)">1</text>
<text x="730.52" y="546.1" font-family="'Noto Sans CJK SC', 'DejaVu Sans', 'Liberation Sans', sans-serif" font-weight="bold" font-size="59.64" fill="#063b5e" textLength="56.95" lengthAdjust="spacingAndGlyphs" stroke="#063b5e" stroke-width="2.0" stroke-linejoin="miter" stroke-miterlimit="3" id="s1d">.5</text>
<text x="804.24" y="546.1" font-family="'Noto Sans CJK SC', 'DejaVu Sans', 'Liberation Sans', sans-serif" font-weight="bold" font-size="58.18" fill="#063b5e" textLength="169.58" lengthAdjust="spacingAndGlyphs" stroke="#063b5e" stroke-width="2.0" stroke-linejoin="miter" stroke-miterlimit="3" id="s1c">INCH</text>
<text x="433.75" y="623.8" font-family="'Noto Sans CJK SC', 'DejaVu Sans', 'Liberation Sans', sans-serif" font-weight="bold" font-size="58.18" fill="#063b5e" textLength="324.44" lengthAdjust="spacingAndGlyphs" stroke="#063b5e" stroke-width="2.0" stroke-linejoin="miter" stroke-miterlimit="3" id="s2a">REGULAR:</text>
<text x="776.36" y="623.8" font-family="'Noto Sans CJK SC', 'DejaVu Sans', 'Liberation Sans', sans-serif" font-weight="bold" font-size="58.18" fill="#063b5e" textLength="170.28" lengthAdjust="spacingAndGlyphs" stroke="#063b5e" stroke-width="2.0" stroke-linejoin="miter" stroke-miterlimit="3" id="s2b">30-44</text>
<text x="964.97" y="623.8" font-family="'Noto Sans CJK SC', 'DejaVu Sans', 'Liberation Sans', sans-serif" font-weight="bold" font-size="58.18" fill="#063b5e" textLength="240.05" lengthAdjust="spacingAndGlyphs" stroke="#063b5e" stroke-width="2.0" stroke-linejoin="miter" stroke-miterlimit="3" id="s2c">INCHES</text>
<text x="435.23" y="701.8" font-family="'Noto Sans CJK SC', 'DejaVu Sans', 'Liberation Sans', sans-serif" font-weight="bold" font-size="58.18" fill="#063b5e" textLength="296.96" lengthAdjust="spacingAndGlyphs" stroke="#063b5e" stroke-width="2.0" stroke-linejoin="miter" stroke-miterlimit="3" id="s3a">X-LARGE:</text>
<text x="750.71" y="701.8" font-family="'Noto Sans CJK SC', 'DejaVu Sans', 'Liberation Sans', sans-serif" font-weight="bold" font-size="58.18" fill="#063b5e" textLength="171.33" lengthAdjust="spacingAndGlyphs" stroke="#063b5e" stroke-width="2.0" stroke-linejoin="miter" stroke-miterlimit="3" id="s3b">34-52</text>
<text x="938.75" y="701.8" font-family="'Noto Sans CJK SC', 'DejaVu Sans', 'Liberation Sans', sans-serif" font-weight="bold" font-size="58.18" fill="#063b5e" textLength="241.09" lengthAdjust="spacingAndGlyphs" stroke="#063b5e" stroke-width="2.0" stroke-linejoin="miter" stroke-miterlimit="3" id="s3c">INCHES</text>
<text x="435.67" y="1437.7" font-family="'Noto Sans CJK SC', 'DejaVu Sans', 'Liberation Sans', sans-serif" font-weight="bold" font-size="58.18" fill="#063b5e" textLength="240.59" lengthAdjust="spacingAndGlyphs" stroke="#063b5e" stroke-width="2.0" stroke-linejoin="miter" stroke-miterlimit="3" id="t1a">WIDTH:</text>
<clipPath id="cpt1b"><path d="M688.0,1383.6 H762.9 V1426.6 H723.3 V1444.7 H709.9 V1426.6 H688.0 Z"/></clipPath>
<text x="691.95" y="1437.6" font-family="'Liberation Sans', 'DejaVu Sans', 'Liberation Sans', sans-serif" font-weight="bold" font-size="63.2" fill="#063b5e" textLength="44.33" lengthAdjust="spacingAndGlyphs" stroke="#063b5e" stroke-width="2.2" stroke-linejoin="miter" stroke-miterlimit="3" id="t1b" clip-path="url(#cpt1b)">1</text>
<text x="730.48" y="1437.7" font-family="'Noto Sans CJK SC', 'DejaVu Sans', 'Liberation Sans', sans-serif" font-weight="bold" font-size="59.64" fill="#063b5e" textLength="56.61" lengthAdjust="spacingAndGlyphs" stroke="#063b5e" stroke-width="2.0" stroke-linejoin="miter" stroke-miterlimit="3" id="t1d">.0</text>
<text x="804.28" y="1437.7" font-family="'Noto Sans CJK SC', 'DejaVu Sans', 'Liberation Sans', sans-serif" font-weight="bold" font-size="58.18" fill="#063b5e" textLength="169.31" lengthAdjust="spacingAndGlyphs" stroke="#063b5e" stroke-width="2.0" stroke-linejoin="miter" stroke-miterlimit="3" id="t1c">INCH</text>
<text x="437.62" y="1515.8" font-family="'Noto Sans CJK SC', 'DejaVu Sans', 'Liberation Sans', sans-serif" font-weight="bold" font-size="58.18" fill="#063b5e" textLength="246.14" lengthAdjust="spacingAndGlyphs" stroke="#063b5e" stroke-width="2.0" stroke-linejoin="miter" stroke-miterlimit="3" id="t2a">YOUTH:</text>
<text x="700.62" y="1515.8" font-family="'Noto Sans CJK SC', 'DejaVu Sans', 'Liberation Sans', sans-serif" font-weight="bold" font-size="58.18" fill="#063b5e" textLength="170.86" lengthAdjust="spacingAndGlyphs" stroke="#063b5e" stroke-width="2.0" stroke-linejoin="miter" stroke-miterlimit="3" id="t2b">22-32</text>
<text x="890.03" y="1515.8" font-family="'Noto Sans CJK SC', 'DejaVu Sans', 'Liberation Sans', sans-serif" font-weight="bold" font-size="58.18" fill="#063b5e" textLength="240.42" lengthAdjust="spacingAndGlyphs" stroke="#063b5e" stroke-width="2.0" stroke-linejoin="miter" stroke-miterlimit="3" id="t2c">INCHES</text>
<text x="1380.28" y="668.4" font-family="'Noto Sans CJK SC', 'DejaVu Sans', 'Liberation Sans', sans-serif" font-weight="bold" font-size="31.49" fill="#063b5e" textLength="176.76" lengthAdjust="spacingAndGlyphs" stroke="#063b5e" stroke-width="1.2" stroke-linejoin="miter" stroke-miterlimit="3" id="c1a">NON-SLIP</text>
<text x="1567.25" y="668.4" font-family="'Noto Sans CJK SC', 'DejaVu Sans', 'Liberation Sans', sans-serif" font-weight="bold" font-size="31.49" fill="#063b5e" textLength="118.9" lengthAdjust="spacingAndGlyphs" stroke="#063b5e" stroke-width="1.2" stroke-linejoin="miter" stroke-miterlimit="3" id="c1b">METAL</text>
<text x="1696.93" y="668.4" font-family="'Noto Sans CJK SC', 'DejaVu Sans', 'Liberation Sans', sans-serif" font-weight="bold" font-size="31.49" fill="#063b5e" textLength="99.72" lengthAdjust="spacingAndGlyphs" stroke="#063b5e" stroke-width="1.2" stroke-linejoin="miter" stroke-miterlimit="3" id="c1c">LOOP</text>
<text x="1383.87" y="712.0" font-family="'Noto Sans CJK SC', 'DejaVu Sans', 'Liberation Sans', sans-serif" font-weight="bold" font-size="31.49" fill="#063b5e" textLength="48.26" lengthAdjust="spacingAndGlyphs" stroke="#063b5e" stroke-width="1.2" stroke-linejoin="miter" stroke-miterlimit="3" id="c2a">TO</text>
<text x="1442.0" y="712.0" font-family="'Noto Sans CJK SC', 'DejaVu Sans', 'Liberation Sans', sans-serif" font-weight="bold" font-size="31.49" fill="#063b5e" textLength="121.06" lengthAdjust="spacingAndGlyphs" stroke="#063b5e" stroke-width="1.2" stroke-linejoin="miter" stroke-miterlimit="3" id="c2b">EASILY</text>
<text x="1575.9" y="712.0" font-family="'Noto Sans CJK SC', 'DejaVu Sans', 'Liberation Sans', sans-serif" font-weight="bold" font-size="31.49" fill="#063b5e" textLength="132.37" lengthAdjust="spacingAndGlyphs" stroke="#063b5e" stroke-width="1.2" stroke-linejoin="miter" stroke-miterlimit="3" id="c2c">ADJUST</text>
<text x="1719.47" y="712.0" font-family="'Noto Sans CJK SC', 'DejaVu Sans', 'Liberation Sans', sans-serif" font-weight="bold" font-size="31.49" fill="#063b5e" textLength="73.7" lengthAdjust="spacingAndGlyphs" stroke="#063b5e" stroke-width="1.2" stroke-linejoin="miter" stroke-miterlimit="3" id="c2d">SIZE</text>
<text x="1219.62" y="1529.7" font-family="'Noto Sans CJK SC', 'DejaVu Sans', 'Liberation Sans', sans-serif" font-weight="bold" font-size="31.49" fill="#063b5e" textLength="176.65" lengthAdjust="spacingAndGlyphs" stroke="#063b5e" stroke-width="1.2" stroke-linejoin="miter" stroke-miterlimit="3" id="d1a">NON-SLIP</text>
<text x="1406.79" y="1529.7" font-family="'Noto Sans CJK SC', 'DejaVu Sans', 'Liberation Sans', sans-serif" font-weight="bold" font-size="31.49" fill="#063b5e" textLength="118.62" lengthAdjust="spacingAndGlyphs" stroke="#063b5e" stroke-width="1.2" stroke-linejoin="miter" stroke-miterlimit="3" id="d1b">METAL</text>
<text x="1536.16" y="1529.7" font-family="'Noto Sans CJK SC', 'DejaVu Sans', 'Liberation Sans', sans-serif" font-weight="bold" font-size="31.49" fill="#063b5e" textLength="99.76" lengthAdjust="spacingAndGlyphs" stroke="#063b5e" stroke-width="1.2" stroke-linejoin="miter" stroke-miterlimit="3" id="d1c">LOOP</text>
<text x="1223.23" y="1573.3" font-family="'Noto Sans CJK SC', 'DejaVu Sans', 'Liberation Sans', sans-serif" font-weight="bold" font-size="31.49" fill="#063b5e" textLength="48.31" lengthAdjust="spacingAndGlyphs" stroke="#063b5e" stroke-width="1.2" stroke-linejoin="miter" stroke-miterlimit="3" id="d2a">TO</text>
<text x="1281.36" y="1573.3" font-family="'Noto Sans CJK SC', 'DejaVu Sans', 'Liberation Sans', sans-serif" font-weight="bold" font-size="31.49" fill="#063b5e" textLength="121.33" lengthAdjust="spacingAndGlyphs" stroke="#063b5e" stroke-width="1.2" stroke-linejoin="miter" stroke-miterlimit="3" id="d2b">EASILY</text>
<text x="1415.51" y="1573.3" font-family="'Noto Sans CJK SC', 'DejaVu Sans', 'Liberation Sans', sans-serif" font-weight="bold" font-size="31.49" fill="#063b5e" textLength="132.34" lengthAdjust="spacingAndGlyphs" stroke="#063b5e" stroke-width="1.2" stroke-linejoin="miter" stroke-miterlimit="3" id="d2c">ADJUST</text>
<text x="1558.9" y="1573.3" font-family="'Noto Sans CJK SC', 'DejaVu Sans', 'Liberation Sans', sans-serif" font-weight="bold" font-size="31.49" fill="#063b5e" textLength="73.8" lengthAdjust="spacingAndGlyphs" stroke="#063b5e" stroke-width="1.2" stroke-linejoin="miter" stroke-miterlimit="3" id="d2d">SIZE</text>
<clipPath id="cpk1a"><path d="M101.7,556.8 H187.8 V626.2 H148.20000000000002 V651.4 H130.8 V626.2 H101.7 Z"/></clipPath>
<text x="105.37" y="644.9" font-family="'Liberation Sans', 'DejaVu Sans', 'Liberation Sans', sans-serif" font-weight="bold" font-size="112.8" fill="#0a70a8" stroke="#0a70a8" stroke-width="1.0" stroke-linejoin="miter" stroke-miterlimit="3" id="k1a" clip-path="url(#cpk1a)">1</text>
<text x="159.37" y="644.8" font-family="'Noto Sans CJK SC', 'DejaVu Sans', 'Liberation Sans', sans-serif" font-weight="bold" font-size="106.6" fill="#0a70a8" textLength="94.45" lengthAdjust="spacingAndGlyphs" stroke="#0a70a8" stroke-width="1.2" stroke-linejoin="miter" stroke-miterlimit="3" id="k1c">.5</text>
<text x="254.55" y="645.2" font-family="'Noto Sans CJK SC', 'DejaVu Sans', 'Liberation Sans', sans-serif" font-weight="bold" font-size="55.1" fill="#0a70a8" textLength="66.82" lengthAdjust="spacingAndGlyphs" stroke="#0a70a8" stroke-width="0.4" stroke-linejoin="miter" stroke-miterlimit="3" id="k1b">IN</text>
<clipPath id="cpk2a"><path d="M137.2,1422.7 H220.2 V1491.7 H180.6 V1516.5 H164.89999999999998 V1491.7 H137.2 Z"/></clipPath>
<text x="138.15" y="1510.5" font-family="'Liberation Sans', 'DejaVu Sans', 'Liberation Sans', sans-serif" font-weight="bold" font-size="113.6" fill="#0a70a8" id="k2a" clip-path="url(#cpk2a)">1</text>
<text x="190.65" y="1510.5" font-family="'Liberation Sans', 'DejaVu Sans', 'Liberation Sans', sans-serif" font-weight="bold" font-size="113.6" fill="#0a70a8" textLength="86.56" lengthAdjust="spacingAndGlyphs" id="k2c">.0</text>
<text x="281.9" y="1511.9" font-family="'Liberation Sans', 'DejaVu Sans', 'Liberation Sans', sans-serif" font-weight="bold" font-size="59.93" fill="#0a70a8" textLength="65.13" lengthAdjust="spacingAndGlyphs" id="k2b">IN</text>
<text x="588.26" y="156.3" font-family="'Liberation Sans', 'DejaVu Sans', 'Liberation Sans', sans-serif" font-weight="bold" font-size="90.69" fill="#ffffff" textLength="197.67" lengthAdjust="spacingAndGlyphs" id="hdA">SIZE</text>
<text x="810.78" y="156.3" font-family="'Liberation Sans', 'DejaVu Sans', 'Liberation Sans', sans-serif" font-weight="bold" font-size="90.69" fill="#ffffff" textLength="545.84" lengthAdjust="spacingAndGlyphs" id="hdB">REFERENCE</text>
</svg>
</body>
</html>
